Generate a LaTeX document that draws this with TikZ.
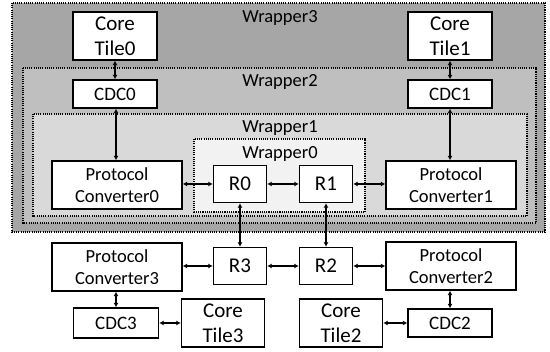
\documentclass[tikz,border=0pt]{standalone}
\usepackage{fontspec}
\setmainfont{Carlito}
\usetikzlibrary{arrows.meta}
\definecolor{wthree}{RGB}{166,166,166}
\definecolor{wtwo}{RGB}{191,191,191}
\definecolor{wone}{RGB}{217,217,217}
\definecolor{wzero}{RGB}{242,242,242}
\tikzset{
  wrapbox/.style={draw=black, line width=1.6pt, dash pattern=on 1.1pt off 1.1pt},
  wraplabel/.style={font=\fontsize{18.5}{20}\selectfont, inner sep=0pt},
  blk/.style={draw=black, line width=1.4pt, fill=white, inner sep=0pt, align=center},
  coretile/.style={blk, minimum width=84pt, minimum height=48pt, font=\fontsize{21}{25}\selectfont},
  cdcbox/.style={blk, minimum width=84pt, minimum height=28pt, font=\fontsize{19}{21}\selectfont},
  pconv/.style={blk, minimum width=130pt, minimum height=48pt, font=\fontsize{18.5}{22}\selectfont},
  router/.style={blk, minimum width=53pt, minimum height=37pt, font=\fontsize{21}{24}\selectfont},
  link/.style={line width=1.3pt, {Latex[length=4.5pt,width=5pt]}-{Latex[length=4.5pt,width=5pt]}}
}
\begin{document}
\begin{tikzpicture}[x=1pt,y=-1pt]
\useasboundingbox (0,0) rectangle (550,352);

% nested wrapper regions
\draw[wrapbox, fill=wthree] (12,3) rectangle (545,232);
\draw[wrapbox, fill=wtwo] (23,68) rectangle (536,223);
\draw[wrapbox, fill=wone] (33,114) rectangle (527,216);
\draw[wrapbox, fill=wzero] (194,139) rectangle (365,212);

\node[wraplabel] (lw3) at (280,18) {Wrapper3};
\node[wraplabel] (lw2) at (280,82) {Wrapper2};
\node[wraplabel] (lw1) at (280,128) {Wrapper1};
\node[wraplabel] (lw0) at (280,154) {Wrapper0};

% tiles, clock-domain crossings, converters and routers
\node[coretile] (ct0) at (115,36) {Core\\Tile0};
\node[cdcbox] (cdc0) at (115,94) {CDC0};
\node[pconv] (pc0) at (117,185) {Protocol\\Converter0};
\node[router] (r0) at (240,184) {R0};
\node[router] (r1) at (326,184) {R1};
\node[pconv] (pc1) at (451,185) {Protocol\\Converter1};
\node[coretile] (ct1) at (450,36) {Core\\Tile1};
\node[cdcbox] (cdc1) at (450,94) {CDC1};

\node[router] (r3) at (240,266) {R3};
\node[router] (r2) at (326,266) {R2};
\node[pconv] (pc3) at (117,267) {Protocol\\Converter3};
\node[pconv] (pc2) at (451,266) {Protocol\\Converter2};
\node[cdcbox, minimum width=85pt, minimum height=30pt] (cdc3) at (116,323) {CDC3};
\node[coretile, minimum width=83pt] (ct3) at (223,323) {Core\\Tile3};
\node[coretile, minimum width=83pt] (ct2) at (341,323) {Core\\Tile2};
\node[cdcbox] (cdc2) at (450,323) {CDC2};

% links
\draw[link] (ct0) -- (cdc0);
\draw[link] (cdc0.south -| 116,0) -- (pc0.north -| 116,0);
\draw[link] (ct1) -- (cdc1);
\draw[link] (cdc1) -- (pc1.north -| cdc1);
\draw[link] (pc0.east |- r0) -- (r0);
\draw[link] (r0) -- (r1);
\draw[link] (r1) -- (pc1.west |- r1);
\draw[link] (r0) -- (r3);
\draw[link] (r1) -- (r2);
\draw[link] (pc3.east |- r3) -- (r3);
\draw[link] (r3) -- (r2);
\draw[link] (r2) -- (pc2.west |- r2);
\draw[link] (pc3.south -| cdc3) -- (cdc3);
\draw[link] (cdc3) -- (ct3);
\draw[link] (ct2) -- (cdc2);
\draw[link] (pc2.south -| cdc2) -- (cdc2);
\end{tikzpicture}
\end{document}
